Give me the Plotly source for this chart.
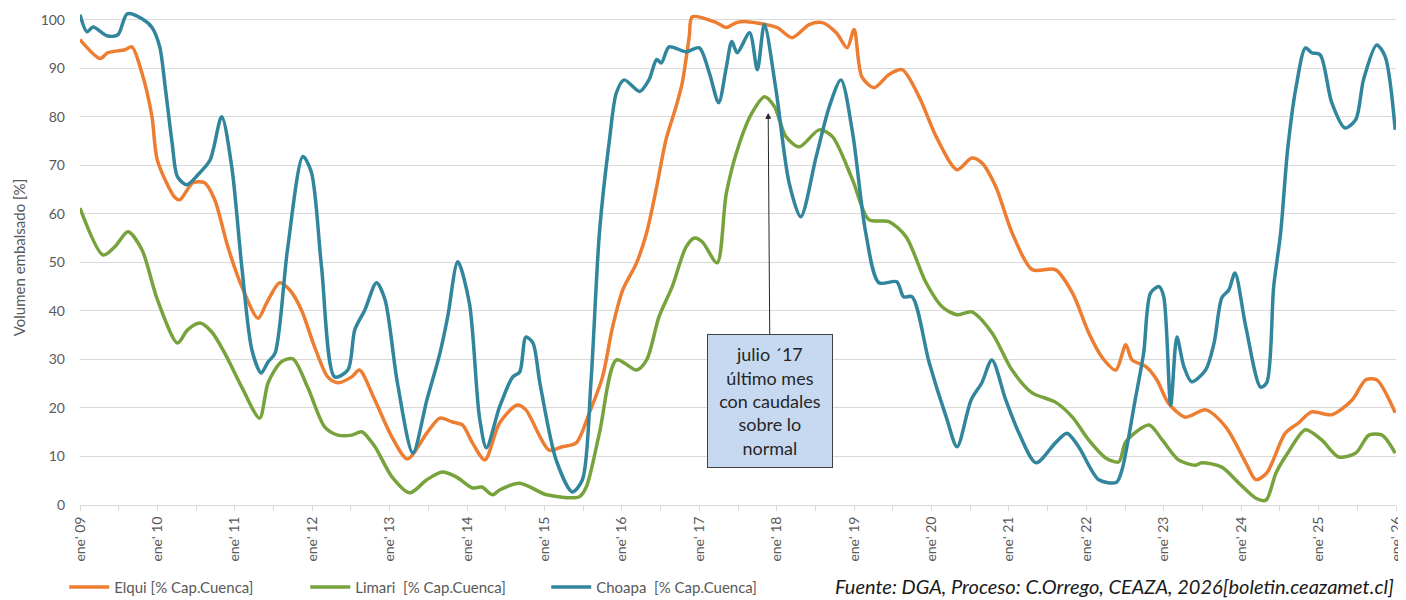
import plotly.graph_objects as go

# decimal years, values in % of basin capacity
elqui_x = [2009.0, 2009.26, 2009.36, 2009.58, 2009.67, 2009.8, 2009.93, 2010.0, 2010.23, 2010.29,
           2010.46, 2010.61, 2010.74, 2010.91, 2011.09, 2011.3, 2011.41, 2011.58, 2011.71, 2011.86,
           2012.03, 2012.2, 2012.33, 2012.51, 2012.61, 2012.81, 2013.03, 2013.23, 2013.48, 2013.65,
           2013.81, 2013.94, 2014.07, 2014.23, 2014.42, 2014.65, 2014.76, 2015.06, 2015.23, 2015.41,
           2015.58, 2015.75, 2015.88, 2016.01, 2016.19, 2016.32, 2016.45, 2016.57, 2016.7, 2016.78,
           2016.87, 2016.91, 2017.22, 2017.35, 2017.48, 2017.61, 2018.0, 2018.2, 2018.42, 2018.59,
           2018.77, 2018.91, 2019.0, 2019.1, 2019.26, 2019.45, 2019.62, 2019.84, 2020.06, 2020.33,
           2020.52, 2020.65, 2020.83, 2021.04, 2021.3, 2021.6, 2021.82, 2022.03, 2022.2, 2022.38,
           2022.51, 2022.59, 2022.77, 2022.91, 2023.06, 2023.28, 2023.54, 2023.8, 2024.06, 2024.19,
           2024.33, 2024.57, 2024.74, 2024.91, 2025.17, 2025.43, 2025.61, 2025.75, 2025.99]
elqui_y = [95.9, 92.0, 93.2, 93.8, 94.4, 89.0, 80.0, 71.0, 63.3, 62.9,
           66.4, 66.4, 62.9, 53.2, 45.0, 38.5, 41.6, 45.8, 44.3, 40.2,
           32.6, 26.4, 25.2, 26.4, 27.8, 21.6, 14.0, 9.5, 14.8, 17.9,
           17.1, 16.5, 12.8, 9.3, 16.9, 20.6, 19.6, 11.3, 12.0, 12.8,
           19.0, 26.4, 36.7, 44.3, 49.9, 56.1, 65.6, 75.3, 82.1, 87.0,
           96.5, 100.6, 99.4, 98.4, 99.4, 99.6, 98.4, 96.3, 99.0, 99.4,
           97.3, 94.2, 98.0, 88.2, 86.0, 88.7, 89.7, 84.1, 75.9, 69.1,
           71.5, 70.5, 65.6, 56.1, 48.5, 48.5, 43.7, 35.5, 30.5, 27.8,
           33.0, 29.9, 28.5, 25.8, 21.0, 18.1, 19.6, 16.1, 8.7, 5.2,
           6.6, 14.8, 16.9, 19.2, 18.6, 21.6, 25.8, 25.8, 19.0]

limari_x = [2009.0, 2009.3, 2009.45, 2009.62, 2009.8, 2010.0, 2010.26, 2010.39, 2010.55, 2010.7,
            2010.87, 2011.09, 2011.32, 2011.43, 2011.6, 2011.75, 2011.94, 2012.16, 2012.33, 2012.51,
            2012.64, 2012.81, 2013.03, 2013.26, 2013.48, 2013.68, 2013.86, 2014.07, 2014.19, 2014.33,
            2014.42, 2014.68, 2015.03, 2015.45, 2015.54, 2015.71, 2015.93, 2016.19, 2016.32, 2016.48,
            2016.65, 2016.83, 2016.94, 2017.04, 2017.23, 2017.35, 2017.52, 2017.68, 2017.84, 2017.97,
            2018.12, 2018.29, 2018.55, 2018.72, 2018.98, 2019.19, 2019.45, 2019.67, 2019.93, 2020.14,
            2020.33, 2020.52, 2020.78, 2021.04, 2021.3, 2021.6, 2021.82, 2022.03, 2022.25, 2022.42,
            2022.51, 2022.81, 2022.98, 2023.19, 2023.41, 2023.49, 2023.75, 2023.97, 2024.19, 2024.32,
            2024.45, 2024.61, 2024.83, 2025.04, 2025.26, 2025.48, 2025.65, 2025.82, 2025.99]
limari_y = [61.2, 51.5, 53.2, 56.3, 52.6, 42.3, 33.4, 36.1, 37.5, 35.7,
            31.3, 24.3, 17.9, 25.2, 29.5, 30.1, 24.3, 16.1, 14.4, 14.4,
            15.1, 12.0, 5.8, 2.5, 5.2, 6.8, 5.8, 3.5, 3.7, 2.1,
            3.1, 4.5, 2.1, 1.7, 3.7, 14.8, 29.9, 27.8, 29.9, 38.8,
            45.0, 53.2, 55.0, 54.2, 49.9, 64.3, 74.6, 80.8, 84.1, 82.1,
            75.9, 73.8, 77.3, 75.9, 67.0, 58.8, 58.4, 55.3, 45.8, 40.8,
            39.2, 39.8, 35.5, 27.8, 23.1, 21.2, 18.1, 13.4, 9.7, 8.9,
            13.0, 16.5, 13.4, 9.3, 8.2, 8.7, 7.8, 4.5, 1.4, 1.0,
            6.6, 10.9, 15.5, 13.4, 9.9, 10.7, 14.4, 14.4, 10.7]

choapa_x = [2009.0, 2009.09, 2009.17, 2009.35, 2009.49, 2009.61, 2009.8, 2009.93, 2010.03, 2010.1,
            2010.19, 2010.26, 2010.38, 2010.52, 2010.68, 2010.83, 2010.96, 2011.09, 2011.22, 2011.34,
            2011.43, 2011.52, 2011.68, 2011.88, 2011.99, 2012.12, 2012.29, 2012.46, 2012.55, 2012.68,
            2012.83, 2012.94, 2013.1, 2013.3, 2013.48, 2013.65, 2013.75, 2013.88, 2014.03, 2014.16,
            2014.25, 2014.42, 2014.59, 2014.68, 2014.76, 2014.85, 2014.94, 2015.15, 2015.36, 2015.49,
            2015.6, 2015.71, 2015.84, 2015.93, 2016.03, 2016.23, 2016.35, 2016.45, 2016.51, 2016.61,
            2016.83, 2017.0, 2017.13, 2017.25, 2017.35, 2017.42, 2017.49, 2017.65, 2017.75, 2017.84,
            2017.99, 2018.16, 2018.31, 2018.51, 2018.68, 2018.83, 2018.98, 2019.15, 2019.32, 2019.55,
            2019.64, 2019.75, 2019.97, 2020.19, 2020.33, 2020.51, 2020.65, 2020.78, 2020.96, 2021.13,
            2021.35, 2021.6, 2021.75, 2021.9, 2022.16, 2022.39, 2022.46, 2022.63, 2022.74, 2022.83,
            2022.94, 2023.0, 2023.09, 2023.17, 2023.26, 2023.36, 2023.54, 2023.65, 2023.75, 2023.84,
            2023.92, 2024.06, 2024.25, 2024.33, 2024.42, 2024.51, 2024.6, 2024.71, 2024.83, 2024.91,
            2025.02, 2025.17, 2025.34, 2025.48, 2025.58, 2025.75, 2025.86, 2025.99]
choapa_y = [101.0, 97.5, 98.5, 96.7, 96.9, 101.2, 100.2, 98.4, 94.4, 86.2,
            74.6, 67.6, 66.0, 68.0, 71.1, 80.0, 69.7, 49.1, 32.0, 27.2,
            29.5, 31.3, 52.6, 71.8, 68.5, 49.1, 26.4, 27.8, 36.1, 40.2,
            45.8, 42.3, 25.2, 10.7, 21.6, 31.3, 38.8, 50.1, 41.6, 18.1,
            11.8, 20.2, 26.4, 27.4, 34.6, 33.4, 25.2, 9.3, 2.7, 5.2,
            25.2, 56.1, 75.3, 85.0, 87.6, 85.2, 87.6, 91.8, 91.1, 94.4,
            93.4, 94.2, 89.0, 82.9, 90.3, 95.5, 93.2, 97.3, 89.7, 99.0,
            85.6, 66.4, 59.4, 71.8, 82.1, 87.6, 76.7, 56.1, 45.8, 46.0,
            42.9, 42.9, 29.3, 18.1, 12.0, 21.6, 25.2, 29.9, 21.6, 14.8,
            8.7, 12.8, 14.8, 12.0, 5.2, 4.7, 7.2, 21.6, 31.3, 43.7,
            45.0, 42.9, 20.6, 34.6, 28.5, 25.4, 27.8, 33.4, 42.7, 44.3,
            47.8, 36.7, 24.3, 25.2, 45.0, 56.1, 73.2, 86.2, 94.2, 93.2,
            92.8, 82.9, 77.7, 79.4, 87.6, 94.8, 92.4, 77.3]

tick_years = list(range(2009, 2027))
tick_labels = ["ene' %02d" % (y % 100) for y in tick_years]

font_family = "Lato, Open Sans, sans-serif"
grey = '#595959'

fig = go.Figure()
series = [
    ('Elqui [% Cap.Cuenca]', elqui_x, elqui_y, '#ed7d31'),
    ('Limari  [% Cap.Cuenca]', limari_x, limari_y, '#77a23c'),
    ('Choapa  [% Cap.Cuenca]', choapa_x, choapa_y, '#31859c'),
]
for name, xs, ys, color in series:
    fig.add_trace(go.Scatter(
        x=xs, y=ys, name=name, mode='lines',
        line=dict(color=color, width=3.5, shape='spline', smoothing=0.8),
        hoverinfo='skip'
    ))

fig.add_annotation(
    x=2017.89, y=80.8, xref='x', yref='y',
    text='julio ´17<br>último mes<br>con caudales<br>sobre lo<br>normal',
    showarrow=True, arrowhead=2, arrowsize=1.2, arrowwidth=1, arrowcolor='#262626',
    ax=2, ay=288,
    font=dict(family=font_family, size=18, color='#262626'),
    bgcolor='#c6d9f1', bordercolor='#404040', borderwidth=1, borderpad=2,
    width=120, height=128, align='center'
)

fig.add_annotation(
    x=1.0, y=-0.136, xref='paper', yref='paper', xanchor='right', yanchor='top',
    text='<i>Fuente: DGA, Proceso: C.Orrego, CEAZA, 2026[boletin.ceazamet.cl]</i>',
    showarrow=False, font=dict(family=font_family, size=20, color='#1a1a1a')
)

# the page body adds an 8px margin, so the figure is a bit smaller and margins are shifted
fig.update_layout(
    width=1398, height=592,
    margin=dict(l=72, r=10, t=2, b=95, autoexpand=False),
    plot_bgcolor='white', paper_bgcolor='white',
    font=dict(family=font_family, color=grey, size=13),
    showlegend=True,
    legend=dict(orientation='h', x=-0.012, xanchor='left', y=-0.166, yanchor='middle',
                entrywidth=186, font=dict(size=15, color=grey), itemwidth=40),
    xaxis=dict(range=[2009, 2026], tickvals=tick_years, ticktext=tick_labels, tickangle=-90,
               showgrid=False, zeroline=False, showline=True, linecolor='#d9d9d9', linewidth=1,
               ticks='outside', ticklen=5, tickcolor='#d9d9d9', automargin=False,
               minor=dict(dtick=0.5, tick0=2009, ticks='outside', ticklen=5, tickcolor='#d9d9d9'),
               tickfont=dict(size=14, color=grey)),
    yaxis=dict(range=[0, 102], dtick=10, tick0=0, showgrid=True, gridcolor='#d9d9d9', gridwidth=1,
               zeroline=False, showline=False, ticks='', ticklabelstandoff=14, automargin=False,
               tickfont=dict(size=14, color=grey),
               title=dict(text='Volumen embalsado [%]', font=dict(size=15, color=grey), standoff=11)),
)

fig.write_html("out.html")
